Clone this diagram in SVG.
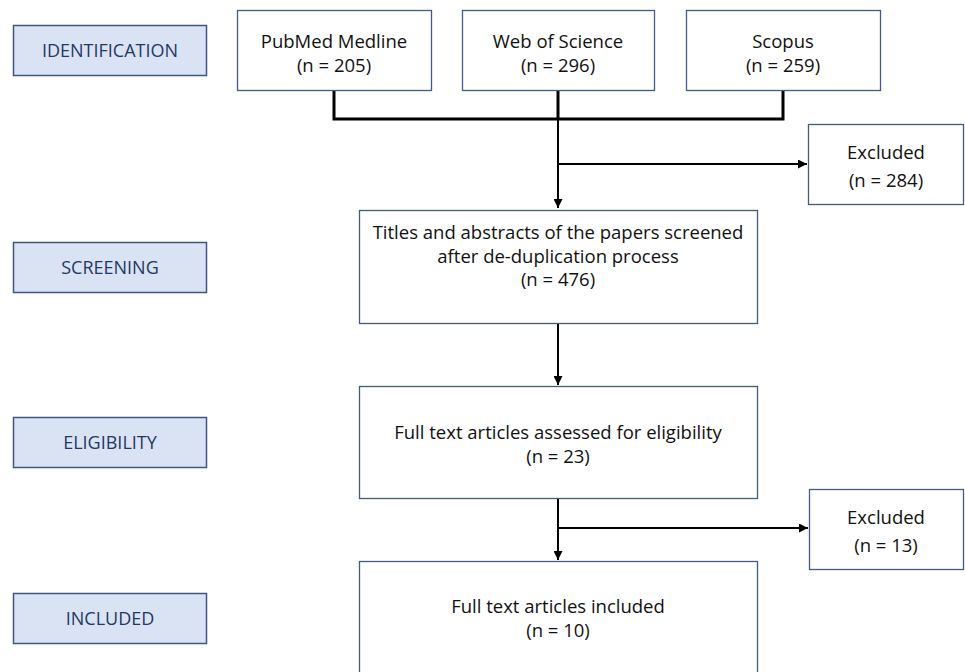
<svg xmlns="http://www.w3.org/2000/svg" width="965" height="672" viewBox="0 0 965 672">
<style>
.stage rect{fill:#DAE3F3;stroke:#3F5685;stroke-width:1.5}
.stage text{font-family:"Open Sans","Liberation Sans",sans-serif;font-size:18px;fill:#1F3864;text-anchor:middle}
.box rect{fill:#fff;stroke:#445A85;stroke-width:1.3}
.box text{font-family:"Open Sans","Liberation Sans",sans-serif;font-size:18.5px;fill:#111;text-anchor:middle}
.thick{stroke:#000;stroke-width:3;fill:none}
.thin{stroke:#000;stroke-width:2;fill:none}
</style>
<defs>
<marker id="ah" viewBox="0 0 10 10" refX="10" refY="5" markerWidth="4.5" markerHeight="4.5" orient="auto" markerUnits="strokeWidth">
<path d="M0,0 L10,5 L0,10 z" fill="#000"/>
</marker>
</defs>
<rect width="965" height="672" fill="#fff"/>
<g id="stage-identification" class="stage"><rect x="13.5" y="25.5" width="193" height="50"/><text x="110" y="57">IDENTIFICATION</text></g>
<g id="stage-screening" class="stage"><rect x="13.5" y="242.5" width="193" height="50"/><text x="110" y="274">SCREENING</text></g>
<g id="stage-eligibility" class="stage"><rect x="13.5" y="417.5" width="193" height="50"/><text x="110" y="449">ELIGIBILITY</text></g>
<g id="stage-included" class="stage"><rect x="13.5" y="593.5" width="193" height="50"/><text x="110" y="625">INCLUDED</text></g>

<g id="connectors">
<path class="thick" d="M334,90 V119 M558,90 V119 M783,90 V119 M332.5,119 H784.5"/>
<path class="thin" d="M558,119 V208" marker-end="url(#ah)"/>
<path class="thin" d="M558,164 H807" marker-end="url(#ah)"/>
<path class="thin" d="M558,323 V385" marker-end="url(#ah)"/>
<path class="thin" d="M558,498 V560" marker-end="url(#ah)"/>
<path class="thin" d="M558,528 H808" marker-end="url(#ah)"/>
</g>

<g id="pubmed" class="box"><rect x="237.5" y="10.5" width="194" height="80"/><text x="334" y="48">PubMed Medline</text><text x="334" y="72">(n = 205)</text></g>
<g id="wos" class="box"><rect x="462.5" y="10.5" width="192" height="80"/><text x="558" y="48">Web of Science</text><text x="558" y="72">(n = 296)</text></g>
<g id="scopus" class="box"><rect x="686.5" y="10.5" width="194" height="80"/><text x="783" y="48">Scopus</text><text x="783" y="72">(n = 259)</text></g>
<g id="excluded1" class="box"><rect x="808.5" y="124.5" width="155" height="80"/><text x="886" y="159">Excluded</text><text x="886" y="187">(n = 284)</text></g>
<g id="screened" class="box"><rect x="359.5" y="210.5" width="398" height="113"/><text x="558" y="239">Titles and abstracts of the papers screened</text><text x="558" y="263">after de-duplication process</text><text x="558" y="286">(n = 476)</text></g>
<g id="eligibility" class="box"><rect x="359.5" y="386.5" width="398" height="112"/><text x="558" y="439">Full text articles assessed for eligibility</text><text x="558" y="463">(n = 23)</text></g>
<g id="excluded2" class="box"><rect x="809.5" y="489.5" width="154" height="80"/><text x="886" y="524">Excluded</text><text x="886" y="552">(n = 13)</text></g>
<g id="included" class="box"><rect x="359.5" y="561.5" width="398" height="130"/><text x="558" y="613">Full text articles included</text><text x="558" y="637">(n = 10)</text></g>
</svg>
